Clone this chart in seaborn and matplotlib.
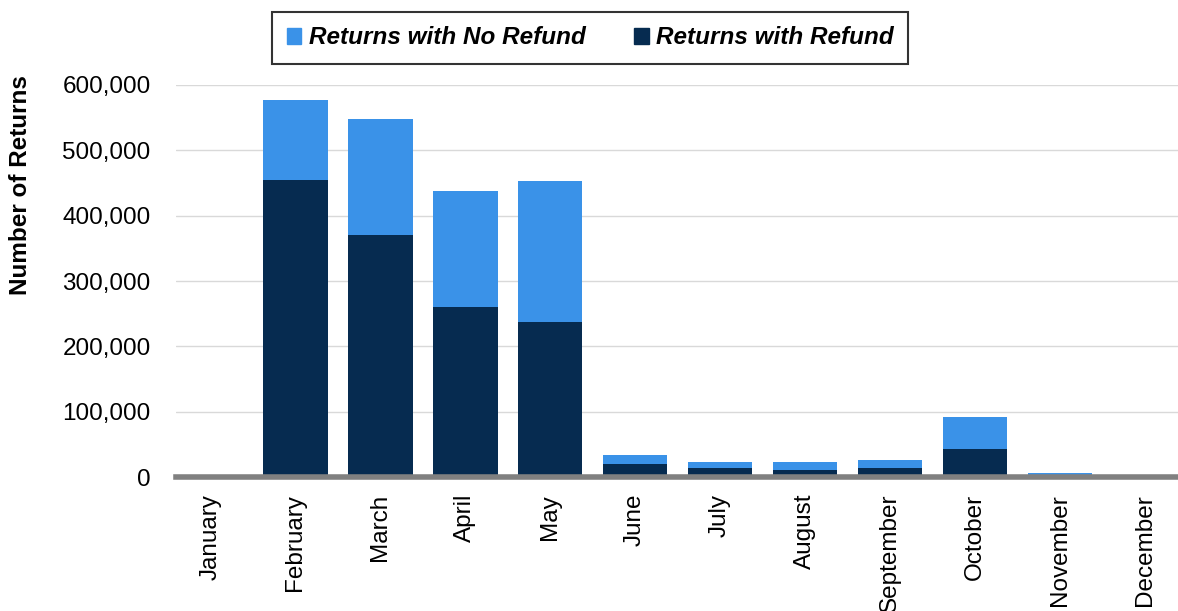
import matplotlib
matplotlib.use("Agg")
import matplotlib.pyplot as plt
from matplotlib.patches import Patch
from matplotlib.ticker import FuncFormatter
import seaborn as sns
import pandas as pd

months = ["January", "February", "March", "April", "May", "June", "July",
          "August", "September", "October", "November", "December"]
refund = [2500, 455000, 370000, 260000, 237000, 20000, 14000, 11000, 14000, 43000, 1500, 2500]
no_refund = [500, 122000, 178000, 178000, 216000, 14000, 9000, 12000, 12000, 49000, 4500, 500]

df = pd.DataFrame({"month": months, "refund": refund, "no_refund": no_refund})
df["total"] = df["refund"] + df["no_refund"]

sns.set_style("white")
plt.rcParams["font.family"] = ["Liberation Sans", "DejaVu Sans"]
plt.rcParams["text.color"] = "black"
plt.rcParams["axes.labelcolor"] = "black"
plt.rcParams["xtick.color"] = "black"
plt.rcParams["ytick.color"] = "black"

light = "#3A92E8"
dark = "#062B50"
fs = 17.5

fig = plt.figure(figsize=(11.78, 6.11), dpi=100)
ax = fig.add_axes([0.149, 0.219, 0.851, 0.642])

sns.barplot(data=df, x="month", y="total", color=light, saturation=1, width=0.76,
            linewidth=0, ax=ax)
sns.barplot(data=df, x="month", y="refund", color=dark, saturation=1, width=0.76,
            linewidth=0, ax=ax)

ax.set_ylim(0, 600000)
ax.set_xlim(-0.41, 11.39)
ax.set_yticks(range(0, 600001, 100000))
ax.yaxis.set_major_formatter(FuncFormatter(lambda v, p: f"{int(v):,}"))
ax.grid(axis="y", color="#d9d9d9", linewidth=1)
ax.set_axisbelow(True)
for s in ["top", "right", "left"]:
    ax.spines[s].set_visible(False)
ax.spines["bottom"].set_color("#808080")
ax.spines["bottom"].set_linewidth(4)
ax.tick_params(axis="x", labelrotation=90, labelsize=fs, length=0, pad=12)
ax.tick_params(axis="y", labelsize=fs, length=0, pad=18)
ax.set_xlabel("")
ax.set_ylabel("Number of Returns", fontsize=fs, fontweight="bold")
ax.yaxis.set_label_coords(-0.143, 0.745)

handles = [Patch(color=light, label="Returns with No Refund"),
           Patch(color=dark, label="Returns with Refund")]
leg = fig.legend(handles=handles, loc="center", bbox_to_anchor=(0.501, 0.938), ncol=2,
                 frameon=True, fancybox=False, edgecolor="black",
                 prop={"size": fs, "weight": "bold", "style": "italic"},
                 handlelength=0.6, handleheight=0.6, handletextpad=0.3,
                 columnspacing=2.0, borderpad=0.6, borderaxespad=0)
leg.get_frame().set_linewidth(1.5)

fig.savefig("out.png", dpi=100)
